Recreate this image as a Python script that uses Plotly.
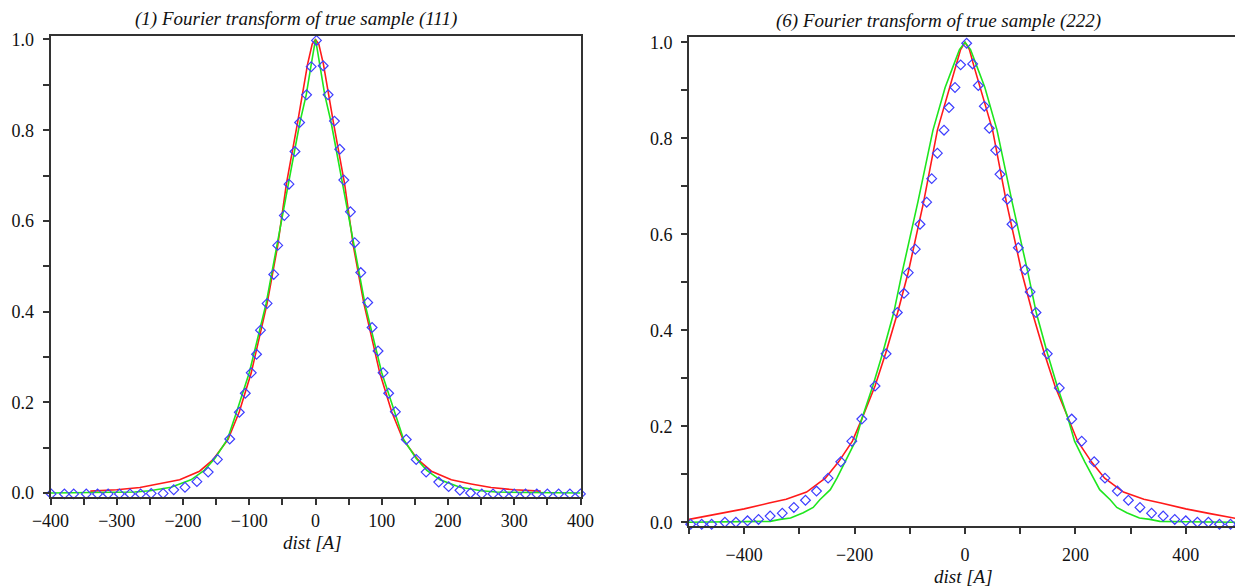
import plotly.graph_objects as go

# ---------------- data: panel (1) (111) ----------------
l_red_x = [-340, -300, -265, -235, -205, -175, -155, -132, -115, -97, -73, -57, -44, -27, -12, -5, 0,
           5, 12, 27, 44, 57, 73, 97, 115, 132, 155, 175, 205, 235, 265, 300, 340]
l_red_y = [0.004, 0.007, 0.012, 0.020, 0.029, 0.048, 0.073, 0.118, 0.179, 0.265, 0.418, 0.546, 0.681, 0.817, 0.945, 0.99, 1.0,
           0.99, 0.945, 0.817, 0.681, 0.546, 0.418, 0.265, 0.179, 0.118, 0.073, 0.048, 0.029, 0.020, 0.012, 0.007, 0.004]

l_grn_x = [-400, -320, -273, -250, -218, -188, -168, -152, -133, -119, -100, -74.5, -57.7, -41, -23.6, -14, -7, -3, 0,
           3, 7, 14, 23.6, 41, 57.7, 74.5, 100, 119, 133, 152, 168, 188, 218, 250, 273, 320, 400]
l_grn_y = [0.0, 0.001, 0.002, 0.005, 0.0125, 0.029, 0.05, 0.076, 0.118, 0.179, 0.265, 0.418, 0.546, 0.681, 0.817, 0.878, 0.94, 0.975, 1.0,
           0.975, 0.94, 0.878, 0.817, 0.681, 0.546, 0.418, 0.265, 0.179, 0.118, 0.076, 0.05, 0.029, 0.0125, 0.005, 0.002, 0.001, 0.0]

l_pts_x = [-399, -379, -365, -346, -329, -313, -296, -280, -264, -248, -230, -214, -197, -179, -162, -148, -129.5, -115,
           -106, -97, -89, -83, -73, -63, -57, -47, -40, -31, -24, -13.5, -6.5, 1.5,
           11.6, 19, 28.6, 36.6, 42.7, 52.7, 59.2, 68.3, 78.8, 85.4, 94.4, 102, 110.4, 120.5, 137, 152, 167, 186,
           201, 218, 234, 251, 268, 284, 300, 317, 334, 350, 367, 384, 400]
l_pts_y = [-0.002, -0.002, -0.002, -0.002, -0.002, -0.002, -0.002, -0.002, -0.002, -0.001, -0.001, 0.007, 0.0125, 0.025, 0.046, 0.074, 0.119, 0.178,
           0.22, 0.265, 0.306, 0.359, 0.418, 0.482, 0.546, 0.612, 0.681, 0.753, 0.817, 0.878, 0.94, 0.998,
           0.942, 0.878, 0.82, 0.758, 0.69, 0.62, 0.552, 0.486, 0.42, 0.365, 0.313, 0.265, 0.22, 0.179, 0.118, 0.074, 0.046, 0.024,
           0.014, 0.006, 0.0, -0.002, -0.002, -0.002, -0.002, -0.002, -0.002, -0.002, -0.002, -0.002, -0.002]

# ---------------- data: panel (6) (222) ----------------
r_red_x = [-500, -444, -400, -355, -324, -287, -253, -229, -204, -187, -163, -144, -122, -103, -75, -50, -27.5, -15.5, -8, 0,
           8, 15.5, 27.5, 50, 75, 103, 122, 144, 163, 187, 204, 229, 253, 287, 324, 355, 400, 444, 500]
r_red_y = [0.006, 0.018, 0.028, 0.040, 0.048, 0.063, 0.092, 0.126, 0.169, 0.215, 0.284, 0.351, 0.437, 0.52, 0.667, 0.817, 0.906, 0.953, 0.985, 1.0,
           0.985, 0.953, 0.906, 0.817, 0.667, 0.52, 0.437, 0.351, 0.284, 0.215, 0.169, 0.126, 0.092, 0.063, 0.048, 0.040, 0.028, 0.018, 0.006]

r_grn_x = [-500, -400, -353, -335, -316, -293, -275, -263, -244, -232, -217, -198.5, -187, -167, -149.5, -129, -114, -85.4, -58, -36, -20.5, -10, 0,
           10, 20.5, 36, 58, 85.4, 114, 129, 149.5, 167, 187, 198.5, 217, 232, 244, 263, 275, 293, 316, 335, 353, 400, 500]
r_grn_y = [0.0, 0.001, 0.002, 0.006, 0.009, 0.02, 0.031, 0.047, 0.068, 0.092, 0.126, 0.169, 0.215, 0.284, 0.351, 0.437, 0.52, 0.667, 0.817, 0.906, 0.953, 0.985, 1.0,
           0.985, 0.953, 0.906, 0.817, 0.667, 0.52, 0.437, 0.351, 0.284, 0.215, 0.169, 0.126, 0.092, 0.068, 0.047, 0.031, 0.02, 0.009, 0.006, 0.002, 0.001, 0.0]

r_pts_x = [-497, -477, -459, -435, -415, -394, -374, -353, -331, -310, -289, -269, -248, -225, -205, -187, -163, -143,
           -122.6, -110.5, -102.7, -90, -81.5, -69.4, -60.3, -50, -38, -29, -18.1, -7.9, 3,
           13.9, 24.1, 35, 44, 55.6, 63.4, 76.7, 85.1, 96.6, 108.7, 118, 128.6, 149, 170.9, 193.3, 211.4, 234, 253.6,
           276, 296, 317, 338, 359, 380, 400, 421, 441, 461, 481, 500]
r_pts_y = [-0.004, -0.004, -0.004, 0.0, 0.0, 0.003, 0.006, 0.013, 0.019, 0.031, 0.046, 0.065, 0.092, 0.126, 0.169, 0.215, 0.284, 0.351,
           0.437, 0.477, 0.52, 0.569, 0.621, 0.667, 0.716, 0.769, 0.817, 0.864, 0.906, 0.953, 0.998,
           0.955, 0.91, 0.867, 0.821, 0.775, 0.725, 0.673, 0.621, 0.572, 0.526, 0.48, 0.437, 0.351, 0.28, 0.215, 0.169, 0.126, 0.092,
           0.065, 0.046, 0.031, 0.019, 0.013, 0.006, 0.003, 0.0, 0.0, -0.004, -0.004, -0.004]

titles = ["(1) Fourier transform of true sample (111)", "(6) Fourier transform of true sample (222)"]
xlabel = "dist [A]"

# ---------------- layout geometry ----------------
# the page body has an 8px margin, so the figure is drawn 8px in from the window corner
OFF = 8
W, H = 1243 - OFF, 586 - OFF
RED, GRN, BLU = "#ff1a1a", "#1ee61e", "#3d3dff"
AX = "#333333"
SERIF = "Liberation Serif, Times New Roman, serif"


def dom_x(a, b):
    return [(a - OFF) / W, (b - OFF) / W]


def dom_y(top, bottom):
    return [1 - (bottom - OFF) / H, 1 - (top - OFF) / H]


fig = go.Figure()

fig.add_trace(go.Scatter(x=l_red_x, y=l_red_y, mode="lines", line=dict(color=RED, width=1.6),
                         xaxis="x", yaxis="y", showlegend=False))
fig.add_trace(go.Scatter(x=l_grn_x, y=l_grn_y, mode="lines", line=dict(color=GRN, width=1.6),
                         xaxis="x", yaxis="y", showlegend=False))
fig.add_trace(go.Scatter(x=l_pts_x, y=l_pts_y, mode="markers",
                         marker=dict(symbol="diamond-open", size=7.5, color=BLU, line=dict(width=1.2)),
                         xaxis="x", yaxis="y", showlegend=False, cliponaxis=False))

fig.add_trace(go.Scatter(x=r_red_x, y=r_red_y, mode="lines", line=dict(color=RED, width=1.6),
                         xaxis="x2", yaxis="y2", showlegend=False))
fig.add_trace(go.Scatter(x=r_grn_x, y=r_grn_y, mode="lines", line=dict(color=GRN, width=1.6),
                         xaxis="x2", yaxis="y2", showlegend=False))
fig.add_trace(go.Scatter(x=r_pts_x, y=r_pts_y, mode="markers",
                         marker=dict(symbol="diamond-open", size=7.5, color=BLU, line=dict(width=1.2)),
                         xaxis="x2", yaxis="y2", showlegend=False, cliponaxis=False))

tickfont = dict(family=SERIF, size=18, color="#111")
common = dict(showline=True, linecolor=AX, linewidth=1.8, mirror=True, showgrid=False, zeroline=False,
              ticks="outside", ticklen=6, tickwidth=1.5, tickcolor=AX, tickfont=tickfont, automargin=False)

fig.update_layout(
    width=W, height=H, margin=dict(l=0, r=0, t=0, b=0),
    paper_bgcolor="white", plot_bgcolor="white",
    xaxis=dict(domain=dom_x(50.5, 580.5), range=[-400, 400], tick0=-400, dtick=100, anchor="y",
               minor=dict(dtick=50, ticks="outside", ticklen=6, tickwidth=1.5, tickcolor=AX),
               ticklabelstandoff=1, **common),
    yaxis=dict(domain=dom_y(36, 496.7), range=[-0.0082, 1.0077], tick0=0, dtick=0.2, tickformat=".1f", anchor="x",
               minor=dict(dtick=0.1, ticks="outside", ticklen=6, tickwidth=1.5, tickcolor=AX),
               ticklabelstandoff=5, **common),
    xaxis2=dict(domain=dom_x(689, 1241), range=[-500, 500], tick0=-400, dtick=200, anchor="y2",
                minor=dict(dtick=100, tick0=0, ticks="outside", ticklen=6, tickwidth=1.5, tickcolor=AX),
                ticklabelstandoff=6, **common),
    yaxis2=dict(domain=dom_y(36.7, 525.7), range=[-0.0071, 1.0117], tick0=0, dtick=0.2, tickformat=".1f", anchor="x2",
                minor=dict(dtick=0.1, ticks="outside", ticklen=6, tickwidth=1.5, tickcolor=AX),
                ticklabelstandoff=5, **common),
)

ann_font = dict(family=SERIF, size=19, color="#111")
annots = [
    (titles[0], 296, 19),
    (titles[1], 938, 21),
    (xlabel, 312, 542),
    (xlabel, 963, 576),
]
for text, px, py in annots:
    fig.add_annotation(text=f"<i>{text}</i>", x=(px - OFF) / W, y=1 - (py - OFF) / H, xref="paper", yref="paper",
                       showarrow=False, xanchor="center", yanchor="middle", font=ann_font)

fig.write_html("out.html")
